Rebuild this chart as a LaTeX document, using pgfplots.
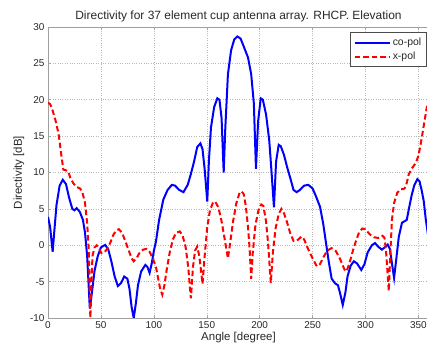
\documentclass[border=0pt]{standalone}
\usepackage{pgfplots}
\pgfplotsset{compat=1.18}
\usepackage{fontspec}
\setmainfont{Liberation Sans}

\definecolor{copol}{RGB}{0,0,255}
\definecolor{xpol}{RGB}{255,0,0}
\definecolor{txt}{RGB}{40,40,40}

\begin{document}
\begin{tikzpicture}
\begin{axis}[
  at={(48bp,34bp)}, anchor=south west,
  scale only axis,
  width=381bp, height=291bp,
  xmin=0, xmax=360, ymin=-10, ymax=30,
  xtick={0,50,...,350}, ytick={-10,-5,...,30},
  tick align=inside, major tick length=3bp,
  tick style={gray!70, line width=0.5bp},
  axis line style={gray!75, line width=0.9bp},
  grid=major,
  grid style={gray!55, dotted, line width=0.5bp},
  /pgf/number format/assume math mode=true,
  ticklabel style={font=\fontsize{10}{11}\selectfont, text=txt},
  title={Directivity for 37 element cup antenna array. RHCP. Elevation},
  title style={font=\fontsize{12}{13}\selectfont, text=txt, yshift=-4bp},
  xlabel={Angle [degree]},
  ylabel={Directivity [dB]},
  label style={font=\fontsize{11.5}{12}\selectfont, text=txt},
  xlabel style={yshift=3bp},
  ylabel style={yshift=-1bp},
  legend style={at={(rel axis cs:0.995,0.982)}, anchor=north east,
    font=\fontsize{10.5}{12}\selectfont, text=txt, draw=black!70,
    line width=0.7bp, inner xsep=3.5bp, inner ysep=3.5bp, row sep=1bp},
  legend cell align=left,
  legend image code/.code={%
    \draw[#1] plot coordinates {(0cm,0cm) (0.62cm,0cm) (1.24cm,0cm)};},
]
\addplot[copol, line width=2bp] coordinates {
(0,3.9) (2,2.5) (4.4,-0.9) (6,2) (8,5.5) (11,8.2) (14,9.0) (17,8.4) (20,6.5)
(23,5.0) (25,4.8) (27,5.1) (30,4.6) (33,3.5) (35,1.7) (37,-1.5) (39.5,-8.7)
(41.5,-6.5) (44,-3.5) (47,-1.5) (50,-0.3) (54,0.05) (57,-0.6) (60,-2.3)
(63,-4.3) (66,-5.6) (69,-5.2) (72,-4.3) (75,-4.6) (77,-6) (79,-8.5) (81,-10)
(83,-8) (85,-5.5) (88,-3.6) (92,-2.7) (94,-3) (96,-3.8) (98,-2.5) (100,-0.8)
(102,0.5) (105,3.5) (109,6.3) (113,7.6) (117,8.3) (120,8.2) (124,7.6)
(128,7.3) (132,8.3) (135,9.8) (138,11.5) (141,13.5) (144,14.0) (146,13.2)
(148,10.5) (150.5,6.0) (152,11.5) (154,16.2) (157,19.0) (160,20.2) (162,20.0)
(164,17.5) (166,10) (167.5,16) (170,23.5) (173,26.8) (176,28.3) (179,28.7)
(182,28.4) (185,27.3) (189,25.8) (192,23.5) (194.5,19.5) (196.5,10.5)
(198.5,17.0) (201,20.2) (203,20.0) (206,18.0) (209,14.5) (211,10.5)
(213.5,5.2) (215.5,11.5) (218,13.8) (220,13.6) (223,12.4) (226,10.7)
(229,9.2) (232,7.6) (235,7.3) (238,7.6) (242,8.2) (246,8.3) (250,7.8)
(253,6.8) (257,5.3) (260,3) (263,0) (265,-2.0) (268,-4.6) (271,-5.2)
(274,-5.5) (276,-6.6) (278.5,-8.2) (281,-6.5) (283,-4.3) (286,-2.8)
(289,-2.2) (292,-2.5) (296,-3.4) (299,-2.6) (302,-1.0) (306,0.0) (309,0.3)
(312,-0.2) (315.5,-0.6) (319,-0.2) (321,0.1) (323,-0.5) (325,-2.5) (327,-4.5)
(329,-2.0) (331.5,1.2) (334.5,3.1) (337,3.3) (339,3.5) (341,5) (343.5,6.8)
(346,8.2) (349,9.1) (351,8.8) (353,7.6) (355,6.1) (357,3.5) (360,0.5)
};
\addlegendentry{co-pol}
\addplot[xpol, line width=2bp, dash pattern=on 5.5bp off 3bp] coordinates {
(0,19.6) (2,19.4) (4,18.7) (7,17.2) (10,15.3) (12.5,12.5) (14.5,10.4)
(17,10.3) (19,10.2) (21,9.3) (24,8.5) (27,8.0) (30.5,7.8) (33,7.0) (35,5.8)
(37,3) (38.5,-0.5) (40,-10) (42,-1.5) (44,-0.3) (46,0.0) (48,-0.4)
(50.5,-1.1) (53,-1.0) (56,-0.5) (59,0.4) (62,1.5) (65,2.1) (67,2.2) (70,1.7)
(73,0.6) (76,-0.6) (79,-1.8) (81,-2.2) (84,-1.7) (87,-0.9) (90,-0.6)
(93,-0.5) (96,-0.9) (99,-1.8) (102,-3.0) (104,-4.5) (106,-6.0) (108,-6.8)
(110,-5.5) (112,-3.5) (115,-1.0) (118,0.8) (121,1.7) (124.5,1.9) (127,1.4)
(130,-0.2) (132.5,-3) (135,-7.3) (137,-3) (139,-0.7) (141,-0.2) (143,-1.5)
(146,-5.3) (148,-1.5) (150.5,2.5) (153,4.8) (156,5.9) (158,6.0) (161,5.2)
(164,3.3) (167,0.8) (170,-1.8) (172,0.2) (175,3.4) (178,5.8) (181,7.2)
(183,7.4) (185,7.0) (187,5.3) (189,2.5) (190.5,-0.5) (192,-4.6) (193.5,-1.0)
(196,2.8) (199,4.9) (201.5,5.6) (203.5,5.4) (206,3.3) (208,0.2) (210.5,-5.2)
(212.5,-1.0) (215,2.3) (218,4.3) (220.5,5.0) (223,4.4) (226,3.1) (229,1.6)
(232,0.6) (235,0.6) (239.5,1.2) (242,0.8) (246,-0.6) (250,-1.8) (254,-2.9)
(257,-2.6) (260,-1.7) (264,-0.7) (268,-0.4) (272,-0.8) (276,-1.9) (280,-3.3)
(282,-3.6) (285,-2.4) (288,-0.8) (291,0.6) (294,1.8) (297,2.3) (300,2.2)
(304,1.5) (308,1.1) (312,1.0) (316,1.3) (318,1.0) (319.5,-1) (322,-6.3)
(323.5,-1) (325,3.5) (327,5.8) (330,7.2) (333,7.7) (336,7.7) (338,8.0)
(341,9.8) (344,10.6) (346,11.0) (348,11.5) (350,12.3) (352,13.8) (354,15.5)
(356,17.3) (358,19.0) (360,19.6)
};
\addlegendentry{x-pol}
\end{axis}
\pgfresetboundingbox
\path[use as bounding box] (0,0) rectangle (427bp,352bp);
\end{tikzpicture}
\end{document}
